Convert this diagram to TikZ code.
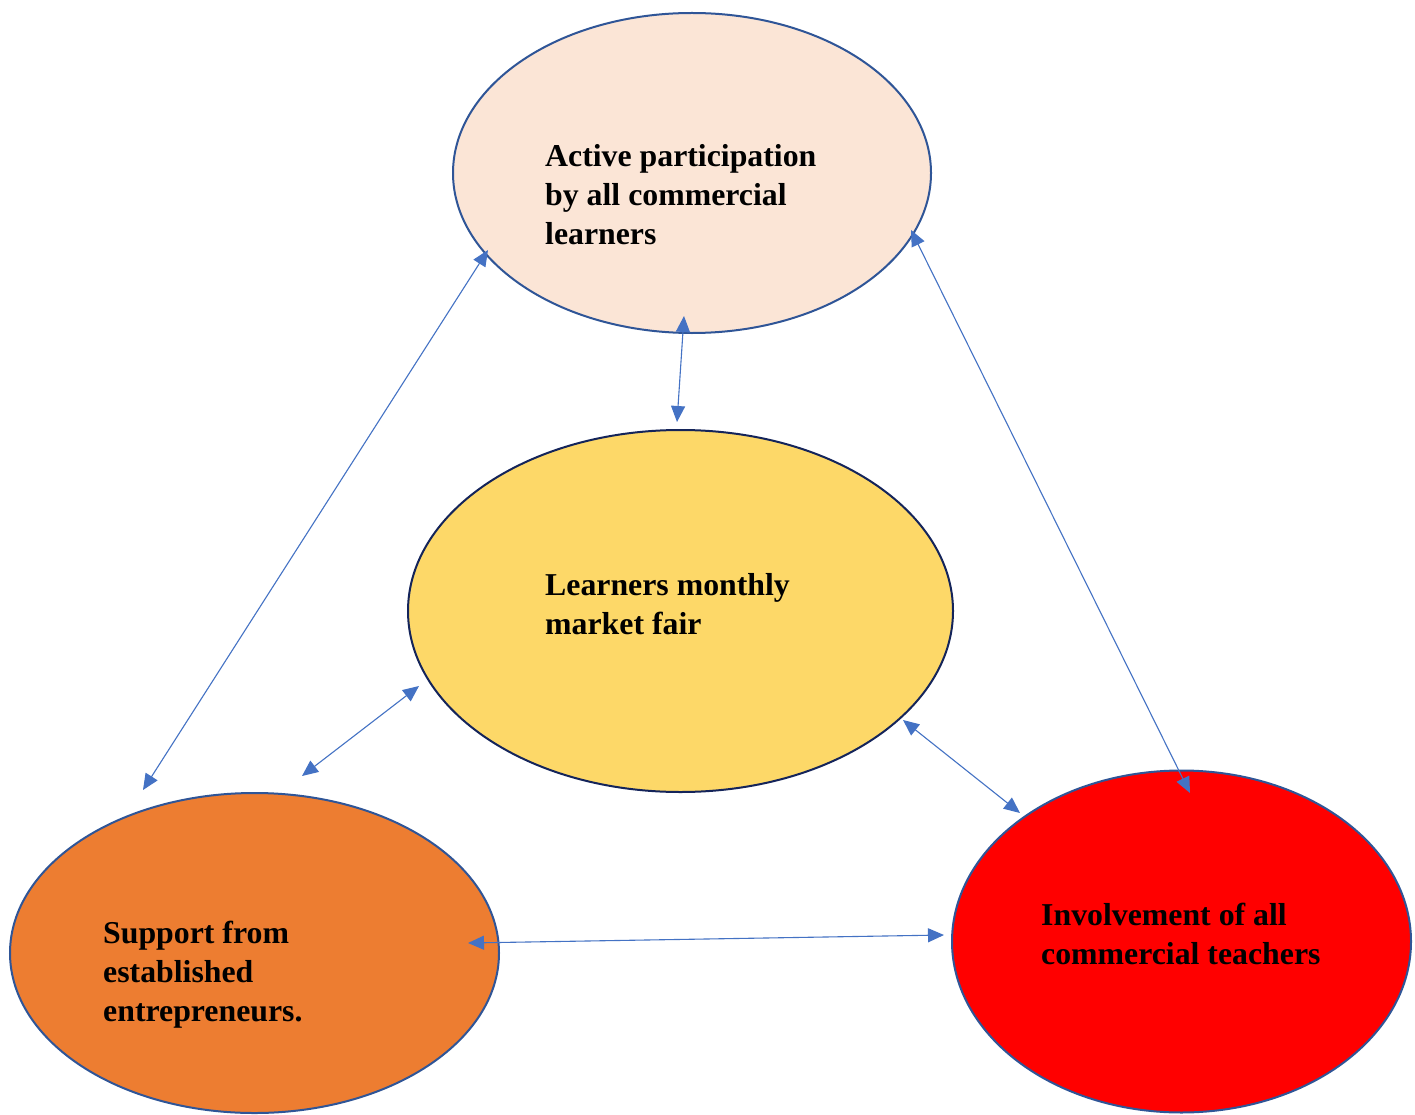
\documentclass[tikz,border=0pt]{standalone}
\usepackage{fontspec}
\setmainfont{Liberation Serif}
\usetikzlibrary{shapes.geometric,arrows.meta}
\definecolor{peach}{HTML}{FBE5D6}
\definecolor{gold}{HTML}{FDD868}
\definecolor{orng}{HTML}{ED7D31}
\definecolor{redfill}{HTML}{FF0000}
\definecolor{edgeblue}{HTML}{2F5597}
\definecolor{edgenavy}{HTML}{14245A}
\definecolor{arrblue}{HTML}{4472C4}
\begin{document}
\begin{tikzpicture}[x=1pt,y=-1pt,
  ell/.style={ellipse, draw=edgeblue, line width=2pt, inner sep=0pt},
  lbl/.style={anchor=north west, inner sep=0pt, align=left, text=black,
    font=\bfseries\fontsize{31.8}{39}\selectfont},
  link/.style={draw=arrblue, line width=1.1pt, {Triangle[length=16pt,width=14pt]}-{Triangle[length=16pt,width=14pt]}}]
\useasboundingbox (0,0) rectangle (1415,1115);
\fill[white] (0,0) rectangle (1415,1115);
\node[ell, fill=peach, minimum width=478pt, minimum height=320pt] (top) at (692,173) {};
\node[ell, fill=gold, draw=edgenavy, minimum width=545pt, minimum height=362pt] (mid) at (680.5,611) {};
\node[ell, fill=orng, minimum width=489pt, minimum height=320pt] (left) at (254.5,953) {};
\node[ell, fill=redfill, minimum width=459pt, minimum height=342pt] (right) at (1181.5,941.5) {};
\node[lbl] (ttop) at (545,144) {Active participation\\by all commercial\\learners};
\node[lbl] (tmid) at (545,573) {Learners monthly\\market fair};
\node[lbl] (tleft) at (103,921) {Support from\\established\\entrepreneurs.};
\node[lbl] (tright) at (1041,903) {Involvement of all\\commercial teachers};
\coordinate (a1) at (684,316);
\coordinate (b1) at (677,422);
\coordinate (a2) at (488,250);
\coordinate (b2) at (143,790);
\coordinate (a3) at (911,230);
\coordinate (b3) at (1190,793);
\coordinate (a4) at (419,686);
\coordinate (b4) at (302,776);
\coordinate (a5) at (903,720);
\coordinate (b5) at (1020,813);
\coordinate (a6) at (468,943);
\coordinate (b6) at (944,935);
\draw[link] (a1) -- (b1);
\draw[link] (a2) -- (b2);
\draw[link] (a3) -- (b3);
\draw[link] (a4) -- (b4);
\draw[link] (a5) -- (b5);
\draw[link] (a6) -- (b6);
\end{tikzpicture}
\end{document}
